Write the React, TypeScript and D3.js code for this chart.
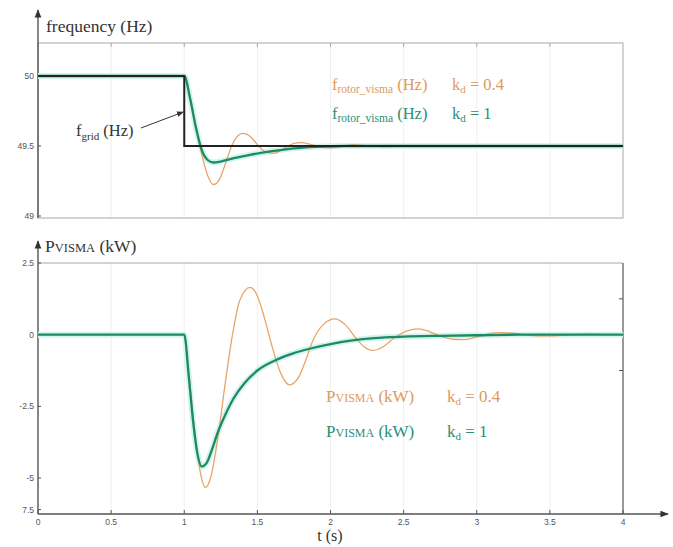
import React from 'react';
import * as d3 from 'd3';

// time axis
const xTicks = [0, 0.5, 1, 1.5, 2, 2.5, 3, 3.5, 4];
const xTickLabels = ['0', '0.5', '1', '1.5', '2', '2.5', '3', '3.5', '4'];

// frequency panel
const freqTicks = [50, 49.5, 49];
const freqTickLabels = ['50', '49.5', '49'];

const fGrid: [number, number][] = [
  [0, 50], [1, 50], [1, 49.5], [4, 49.5],
];

const fRotorKd04: [number, number][] = [
  [0, 50], [1, 50], [1.04, 49.85], [1.08, 49.64], [1.12, 49.44], [1.16, 49.29],
  [1.2, 49.225], [1.24, 49.26], [1.28, 49.37], [1.32, 49.49], [1.36, 49.565],
  [1.4, 49.59], [1.45, 49.57], [1.5, 49.51], [1.55, 49.462], [1.61, 49.448],
  [1.67, 49.475], [1.74, 49.515], [1.8, 49.524], [1.87, 49.51], [1.94, 49.492],
  [2.0, 49.487], [2.08, 49.498], [2.15, 49.507], [2.25, 49.501], [2.35, 49.496],
  [2.5, 49.5], [4, 49.5],
];

const fRotorKd1: [number, number][] = [
  [0, 50], [1, 50], [1.04, 49.84], [1.08, 49.63], [1.12, 49.47], [1.16, 49.4],
  [1.2, 49.382], [1.26, 49.392], [1.34, 49.413], [1.45, 49.437], [1.6, 49.463],
  [1.75, 49.483], [1.9, 49.494], [2.1, 49.5], [4, 49.5],
];

// power panel
const powTicks = [2.5, 0, -2.5, -5, -6.1];
const powTickLabels = ['2.5', '0', '-2.5', '-5', '7.5'];
const powRightTicks = [1.25, -1.25];

const pKd04: [number, number][] = [
  [0, 0], [1, 0], [1.03, -1.3], [1.07, -3.3], [1.11, -4.8], [1.145, -5.33],
  [1.18, -5.0], [1.23, -3.6], [1.28, -1.7], [1.33, 0.0], [1.38, 1.2],
  [1.45, 1.65], [1.5, 1.35], [1.55, 0.55], [1.6, -0.4], [1.66, -1.35],
  [1.72, -1.75], [1.78, -1.5], [1.83, -0.9], [1.88, -0.2], [1.95, 0.35],
  [2.03, 0.55], [2.1, 0.35], [2.17, -0.1], [2.23, -0.42], [2.29, -0.55],
  [2.36, -0.42], [2.44, -0.1], [2.52, 0.12], [2.6, 0.2], [2.68, 0.1],
  [2.76, -0.07], [2.84, -0.16], [2.91, -0.17], [2.99, -0.09], [3.07, 0.02],
  [3.16, 0.07], [3.24, 0.05], [3.32, 0.0], [3.42, -0.04], [3.52, -0.04],
  [3.62, -0.01], [3.76, 0.02], [3.9, 0.0], [4, 0],
];

const pKd1: [number, number][] = [
  [0, 0], [1, 0], [1.03, -1.4], [1.06, -3.0], [1.09, -4.15], [1.12, -4.6],
  [1.15, -4.5], [1.19, -4.0], [1.23, -3.4], [1.28, -2.8], [1.34, -2.2],
  [1.41, -1.7], [1.5, -1.25], [1.62, -0.9], [1.74, -0.66], [1.85, -0.5],
  [2.0, -0.33], [2.15, -0.2], [2.3, -0.12], [2.5, -0.07], [2.75, -0.04],
  [3.0, -0.02], [3.3, 0.0], [4, 0],
];

const W = 673;
const H = 547;
const x0 = 38;
const x1 = 623;

const ORANGE = '#e9a468';
const ORANGE_TXT = '#dd9a5c';
const GREEN = '#1d8a66';
const GREEN_TXT = '#2b8e78';
const HALO = '#d4f5ef';
const AXIS = '#555';
const FRAME = '#a8a8a8';
const GRID = '#efefef';
const TICKTXT = '#555';

const serif: React.CSSProperties = { fontFamily: "'Liberation Serif', 'Times New Roman', Times, serif" };
const sans: React.CSSProperties = { fontFamily: "'Liberation Sans', Arial, sans-serif" };

const App: React.FC = () => {
  const x = d3.scaleLinear().domain([0, 4]).range([x0, x1]);

  const fTop = 43;
  const fBottom = 218;
  const yF = d3.scaleLinear().domain([49, 50]).range([216, 76]);

  const pTop = 263;
  const pBottom = 514;
  const yP = d3.scaleLinear().domain([-5, 2.5]).range([478, 263]);

  const lineF = d3.line<[number, number]>().x((d) => x(d[0])).y((d) => yF(d[1])).curve(d3.curveMonotoneX);
  const lineFGrid = d3.line<[number, number]>().x((d) => x(d[0])).y((d) => yF(d[1]));
  const lineP = d3.line<[number, number]>().x((d) => x(d[0])).y((d) => yP(d[1])).curve(d3.curveMonotoneX);

  return (
    <svg
      width={W}
      height={H}
      style={{ position: 'absolute', left: 0, top: 0, background: '#fff' }}
    >
      <defs>
        <marker id="arrow" viewBox="0 0 10 10" refX="9" refY="5" markerWidth="7" markerHeight="7" orient="auto">
          <path d="M0,1 L10,5 L0,9 z" fill="#333" />
        </marker>
        <marker id="axArrow" viewBox="0 0 10 10" refX="9" refY="5" markerWidth="6" markerHeight="6" orient="auto">
          <path d="M0,1 L10,5 L0,9 z" fill="#333" />
        </marker>
      </defs>

      {/* ---------- frequency panel ---------- */}
      <g>
        {xTicks.slice(1, -1).map((t) => (
          <line key={`fg${t}`} x1={x(t)} x2={x(t)} y1={fTop} y2={fBottom} stroke={GRID} />
        ))}
        <rect x={x0} y={fTop} width={x1 - x0} height={fBottom - fTop} fill="none" stroke={FRAME} />
        {xTicks.slice(1, -1).map((t) => (
          <line key={`ft${t}`} x1={x(t)} x2={x(t)} y1={fTop} y2={fTop + 4} stroke={FRAME} />
        ))}
        <line x1={x0} x2={x0} y1={fBottom} y2={10} stroke={AXIS} strokeWidth={1.4} markerEnd="url(#axArrow)" />
        {freqTicks.map((v, i) => (
          <g key={`fy${v}`}>
            <line x1={x0} x2={x0 + 3} y1={yF(v)} y2={yF(v)} stroke={AXIS} />
            <text x={x0 - 4} y={yF(v) + 3} textAnchor="end" style={sans} fontSize={8.5} fill={TICKTXT}>
              {freqTickLabels[i]}
            </text>
          </g>
        ))}
        <text x={46} y={32} style={serif} fontSize={17.5} fill="#333">frequency (Hz)</text>

        <path d={lineF(fRotorKd1) || ''} fill="none" stroke={HALO} strokeWidth={6} />
        <path d={lineF(fRotorKd04) || ''} fill="none" stroke={ORANGE} strokeWidth={1.3} />
        <path d={lineF(fRotorKd1) || ''} fill="none" stroke={GREEN} strokeWidth={2.3} />
        <path d={lineFGrid(fGrid) || ''} fill="none" stroke="#222" strokeWidth={2} />

        <text x={76} y={136} style={serif} fontSize={16.5} fill="#333">
          f<tspan fontSize={11} dy={4}>grid</tspan>
          <tspan dy={-4}> (Hz)</tspan>
        </text>
        <line x1={141} y1={128} x2={x(1) - 1} y2={112} stroke="#333" strokeWidth={1} markerEnd="url(#arrow)" />

        <text x={332} y={90} style={serif} fontSize={16.5} fill={ORANGE_TXT}>
          f<tspan fontSize={11.5} dy={3}>rotor_visma</tspan>
          <tspan dy={-3}> (Hz)</tspan>
        </text>
        <text x={452} y={90} style={serif} fontSize={16.5} fill={ORANGE_TXT}>
          k<tspan fontSize={11} dy={3}>d</tspan>
          <tspan dy={-3}> = 0.4</tspan>
        </text>
        <text x={332} y={119} style={serif} fontSize={16.5} fill={GREEN_TXT}>
          f<tspan fontSize={11.5} dy={3}>rotor_visma</tspan>
          <tspan dy={-3}> (Hz)</tspan>
        </text>
        <text x={452} y={119} style={serif} fontSize={16.5} fill={GREEN_TXT}>
          k<tspan fontSize={11} dy={3}>d</tspan>
          <tspan dy={-3}> = 1</tspan>
        </text>
      </g>

      {/* ---------- power panel ---------- */}
      <g>
        {xTicks.slice(1, -1).map((t) => (
          <line key={`pg${t}`} x1={x(t)} x2={x(t)} y1={pTop} y2={pBottom} stroke={GRID} />
        ))}
        <line x1={x0} x2={x1} y1={pTop} y2={pTop} stroke={FRAME} />
        <line x1={x1} x2={x1} y1={pTop} y2={pBottom} stroke={AXIS} strokeWidth={1.2} />
        {powRightTicks.map((v) => (
          <line key={`pr${v}`} x1={x1 - 4} x2={x1} y1={yP(v)} y2={yP(v)} stroke={AXIS} />
        ))}
        <line x1={x0} x2={x0} y1={pBottom} y2={241} stroke={AXIS} strokeWidth={1.4} markerEnd="url(#axArrow)" />
        <line x1={x0} x2={668} y1={pBottom} y2={pBottom} stroke={AXIS} strokeWidth={1.4} markerEnd="url(#axArrow)" />
        {powTicks.map((v, i) => (
          <g key={`py${v}`}>
            <line x1={x0} x2={x0 + 3} y1={yP(v)} y2={yP(v)} stroke={AXIS} />
            <text x={x0 - 4} y={yP(v) + 3} textAnchor="end" style={sans} fontSize={8.5} fill={TICKTXT}>
              {powTickLabels[i]}
            </text>
          </g>
        ))}
        {xTicks.map((t, i) => (
          <g key={`px${t}`}>
            <line x1={x(t)} x2={x(t)} y1={pBottom} y2={pBottom - 4} stroke={AXIS} />
            <text x={x(t)} y={pBottom + 11} textAnchor="middle" style={sans} fontSize={8.5} fill={TICKTXT}>
              {xTickLabels[i]}
            </text>
          </g>
        ))}
        <text x={330} y={541} textAnchor="middle" style={serif} fontSize={16} fill="#333">t (s)</text>

        <text x={45} y={252} style={serif} fontSize={17.5} fill="#333">
          P<tspan fontSize={12.5}>VISMA</tspan> (kW)
        </text>

        <path d={lineP(pKd1) || ''} fill="none" stroke={HALO} strokeWidth={6} />
        <path d={lineP(pKd04) || ''} fill="none" stroke={ORANGE} strokeWidth={1.3} />
        <path d={lineP(pKd1) || ''} fill="none" stroke={GREEN} strokeWidth={2.3} />

        <text x={326} y={402} style={serif} fontSize={17} fill={ORANGE_TXT}>
          P<tspan fontSize={12}>VISMA</tspan> (kW)
        </text>
        <text x={447} y={402} style={serif} fontSize={17} fill={ORANGE_TXT}>
          k<tspan fontSize={11} dy={3}>d</tspan>
          <tspan dy={-3}> = 0.4</tspan>
        </text>
        <text x={326} y={437} style={serif} fontSize={17} fill={GREEN_TXT}>
          P<tspan fontSize={12}>VISMA</tspan> (kW)
        </text>
        <text x={447} y={437} style={serif} fontSize={17} fill={GREEN_TXT}>
          k<tspan fontSize={11} dy={3}>d</tspan>
          <tspan dy={-3}> = 1</tspan>
        </text>
      </g>
    </svg>
  );
};

export default App;
